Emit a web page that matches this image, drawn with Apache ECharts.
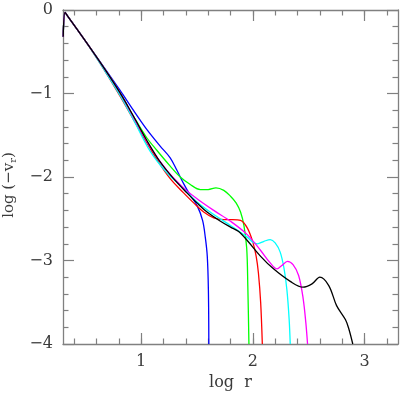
<!DOCTYPE html>
<html>
<head>
<meta charset="utf-8">
<script src="https://cdn.jsdelivr.net/npm/echarts@6/dist/echarts.min.js"></script>
<style>
html, body { margin: 0; padding: 0; background: #fff; }
#chart { width: 407px; height: 407px; }
</style>
</head>
<body>
<div id="chart"></div>
<script>
// log(-v_r) against log r, one curve per run
var blueX = [0.302, 0.318, 0.34, 0.50, 0.68, 0.81, 0.93, 1.05, 1.17, 1.26, 1.32, 1.38, 1.44, 1.50, 1.55, 1.575, 1.592, 1.602, 1.606];
var blueY = [-0.32, -0.03, -0.07, -0.37, -0.71, -0.96, -1.20, -1.43, -1.63, -1.77, -1.92, -2.08, -2.22, -2.34, -2.52, -2.73, -2.95, -3.35, -4.0];

var greenX = [0.302, 0.318, 0.34, 0.50, 0.68, 0.81, 0.93, 1.05, 1.14, 1.26, 1.35, 1.44, 1.53, 1.60, 1.67, 1.74, 1.80, 1.85, 1.89, 1.92, 1.945, 1.955, 1.965];
var greenY = [-0.32, -0.03, -0.07, -0.37, -0.72, -0.99, -1.27, -1.53, -1.68, -1.87, -2.00, -2.09, -2.15, -2.15, -2.13, -2.16, -2.23, -2.31, -2.42, -2.58, -2.85, -3.30, -4.0];

var redX = [0.302, 0.318, 0.34, 0.50, 0.68, 0.81, 0.99, 1.14, 1.26, 1.38, 1.47, 1.56, 1.65, 1.74, 1.82, 1.89, 1.95, 2.00, 2.03, 2.05, 2.07, 2.085];
var redY = [-0.32, -0.03, -0.07, -0.37, -0.74, -1.03, -1.45, -1.79, -2.02, -2.19, -2.31, -2.42, -2.49, -2.51, -2.51, -2.52, -2.61, -2.78, -2.95, -3.15, -3.50, -4.0];

var cyanX = [0.302, 0.318, 0.34, 0.50, 0.68, 0.81, 0.93, 1.08, 1.23, 1.35, 1.50, 1.65, 1.80, 1.95, 2.00, 2.04, 2.10, 2.156, 2.20, 2.245, 2.28, 2.305, 2.325, 2.335];
var cyanY = [-0.32, -0.03, -0.07, -0.37, -0.74, -1.02, -1.31, -1.69, -1.95, -2.10, -2.30, -2.45, -2.58, -2.72, -2.78, -2.80, -2.77, -2.75, -2.79, -2.90, -3.10, -3.35, -3.70, -4.0];

var magentaX = [0.302, 0.318, 0.34, 0.50, 0.68, 0.81, 0.93, 1.08, 1.23, 1.38, 1.50, 1.65, 1.80, 1.95, 2.07, 2.15, 2.216, 2.26, 2.31, 2.36, 2.41, 2.45, 2.475, 2.49];
var magentaY = [-0.32, -0.03, -0.07, -0.37, -0.72, -0.99, -1.28, -1.64, -1.92, -2.13, -2.26, -2.40, -2.53, -2.69, -2.88, -3.02, -3.10, -3.06, -3.01, -3.05, -3.18, -3.45, -3.75, -4.0];

var blackX = [0.302, 0.318, 0.34, 0.50, 0.68, 0.81, 0.93, 1.05, 1.17, 1.29, 1.41, 1.50, 1.59, 1.71, 1.80, 1.87, 1.95, 2.07, 2.185, 2.335, 2.45, 2.53, 2.60, 2.68, 2.75, 2.83, 2.86, 2.895];
var blackY = [-0.32, -0.03, -0.07, -0.37, -0.72, -0.99, -1.27, -1.56, -1.82, -2.02, -2.19, -2.31, -2.42, -2.53, -2.60, -2.65, -2.76, -2.95, -3.10, -3.25, -3.32, -3.28, -3.20, -3.30, -3.54, -3.71, -3.82, -4.0];

var xLabels = [1, 2, 3];
var xMinor = [0.4, 0.6, 0.8, 1.0, 1.2, 1.4, 1.6, 1.8, 2.0, 2.2, 2.4, 2.6, 2.8, 3.0, 3.2];

var FONT = 'DejaVu Serif';
var AXIS = '#808080';
var TXT = '#3a3a3a';
var GRID_W = 335, GRID_H = 334;

function pts(xs, ys) {
    var out = [];
    for (var i = 0; i < xs.length; i++) {
        out.push([xs[i], ys[i]]);
    }
    return out;
}

function minus(v) {
    return String(v).replace('-', '\u2212');
}

// x axis; ticks drawn outward from an axis shifted onto the opposite frame edge
function xAx(pos, offset, ticks, len, lineShow) {
    return {
        type: 'value', position: pos, offset: offset, min: 0.3, max: 3.3,
        axisLine: {show: lineShow, onZero: false, lineStyle: {color: AXIS, width: 1.3}},
        axisTick: {show: !!ticks, length: len, customValues: ticks || [],
            lineStyle: {color: AXIS, width: 1.2}},
        axisLabel: {show: false},
        splitLine: {show: false}
    };
}

function yAx(pos, offset, ticksOn, lineShow) {
    return {
        type: 'value', position: pos, offset: offset, min: -4, max: 0, interval: 1,
        axisLine: {show: lineShow, onZero: false, lineStyle: {color: AXIS, width: 1.3}},
        axisTick: {show: ticksOn, length: 11, lineStyle: {color: AXIS, width: 1.2}},
        minorTick: {show: ticksOn, splitNumber: 5, length: 5.5, lineStyle: {color: AXIS, width: 1.2}},
        axisLabel: {show: false},
        splitLine: {show: false}
    };
}

var xBottom = xAx('bottom', 0, null, 0, true);
xBottom.axisLabel = {show: true, customValues: xLabels, margin: 10,
    fontFamily: FONT, fontSize: 16, color: TXT};
xBottom.name = 'log  r';
xBottom.nameLocation = 'middle';
xBottom.nameGap = 30;
xBottom.nameTextStyle = {fontFamily: FONT, fontSize: 16, color: TXT};

var yLeft = yAx('left', 0, false, true);
yLeft.axisLabel = {show: true, margin: 10, fontFamily: FONT, fontSize: 16, color: TXT,
    formatter: minus};
yLeft.name = 'log (\u2212v{sub|r})';
yLeft.nameLocation = 'middle';
yLeft.nameGap = 41;
yLeft.nameTextStyle = {
    fontFamily: FONT, fontSize: 15, color: TXT, padding: [0, 16, 0, 0],
    rich: {sub: {fontFamily: FONT, fontSize: 10, color: TXT, padding: [9, 0, 0, 0]}}
};

function line(name, xs, ys, color) {
    return {
        name: name, type: 'line', xAxisIndex: 0, yAxisIndex: 0,
        data: pts(xs, ys), showSymbol: false, smooth: 0.35,
        lineStyle: {color: color, width: 1.3}, clip: true
    };
}

var chart = echarts.init(document.getElementById('chart'));
chart.setOption({
    animation: false,
    backgroundColor: '#fff',
    grid: {left: 63, right: 9, top: 10, bottom: 63, containLabel: false, outerBoundsMode: 'none'},
    xAxis: [
        xBottom,
        xAx('top', -GRID_H, xLabels, 11, false),
        xAx('top', -GRID_H, xMinor, 5.5, false),
        xAx('bottom', -GRID_H, xLabels, 11, true),
        xAx('bottom', -GRID_H, xMinor, 5.5, false)
    ],
    yAxis: [
        yLeft,
        yAx('right', -GRID_W, true, false),
        yAx('left', -GRID_W, true, true)
    ],
    series: [
        line('blue', blueX, blueY, '#0000ff'),
        line('green', greenX, greenY, '#00ff00'),
        line('red', redX, redY, '#ff0000'),
        line('cyan', cyanX, cyanY, '#00ffff'),
        line('magenta', magentaX, magentaY, '#ff00ff'),
        line('black', blackX, blackY, '#000000')
    ]
});
</script>
</body>
</html>
